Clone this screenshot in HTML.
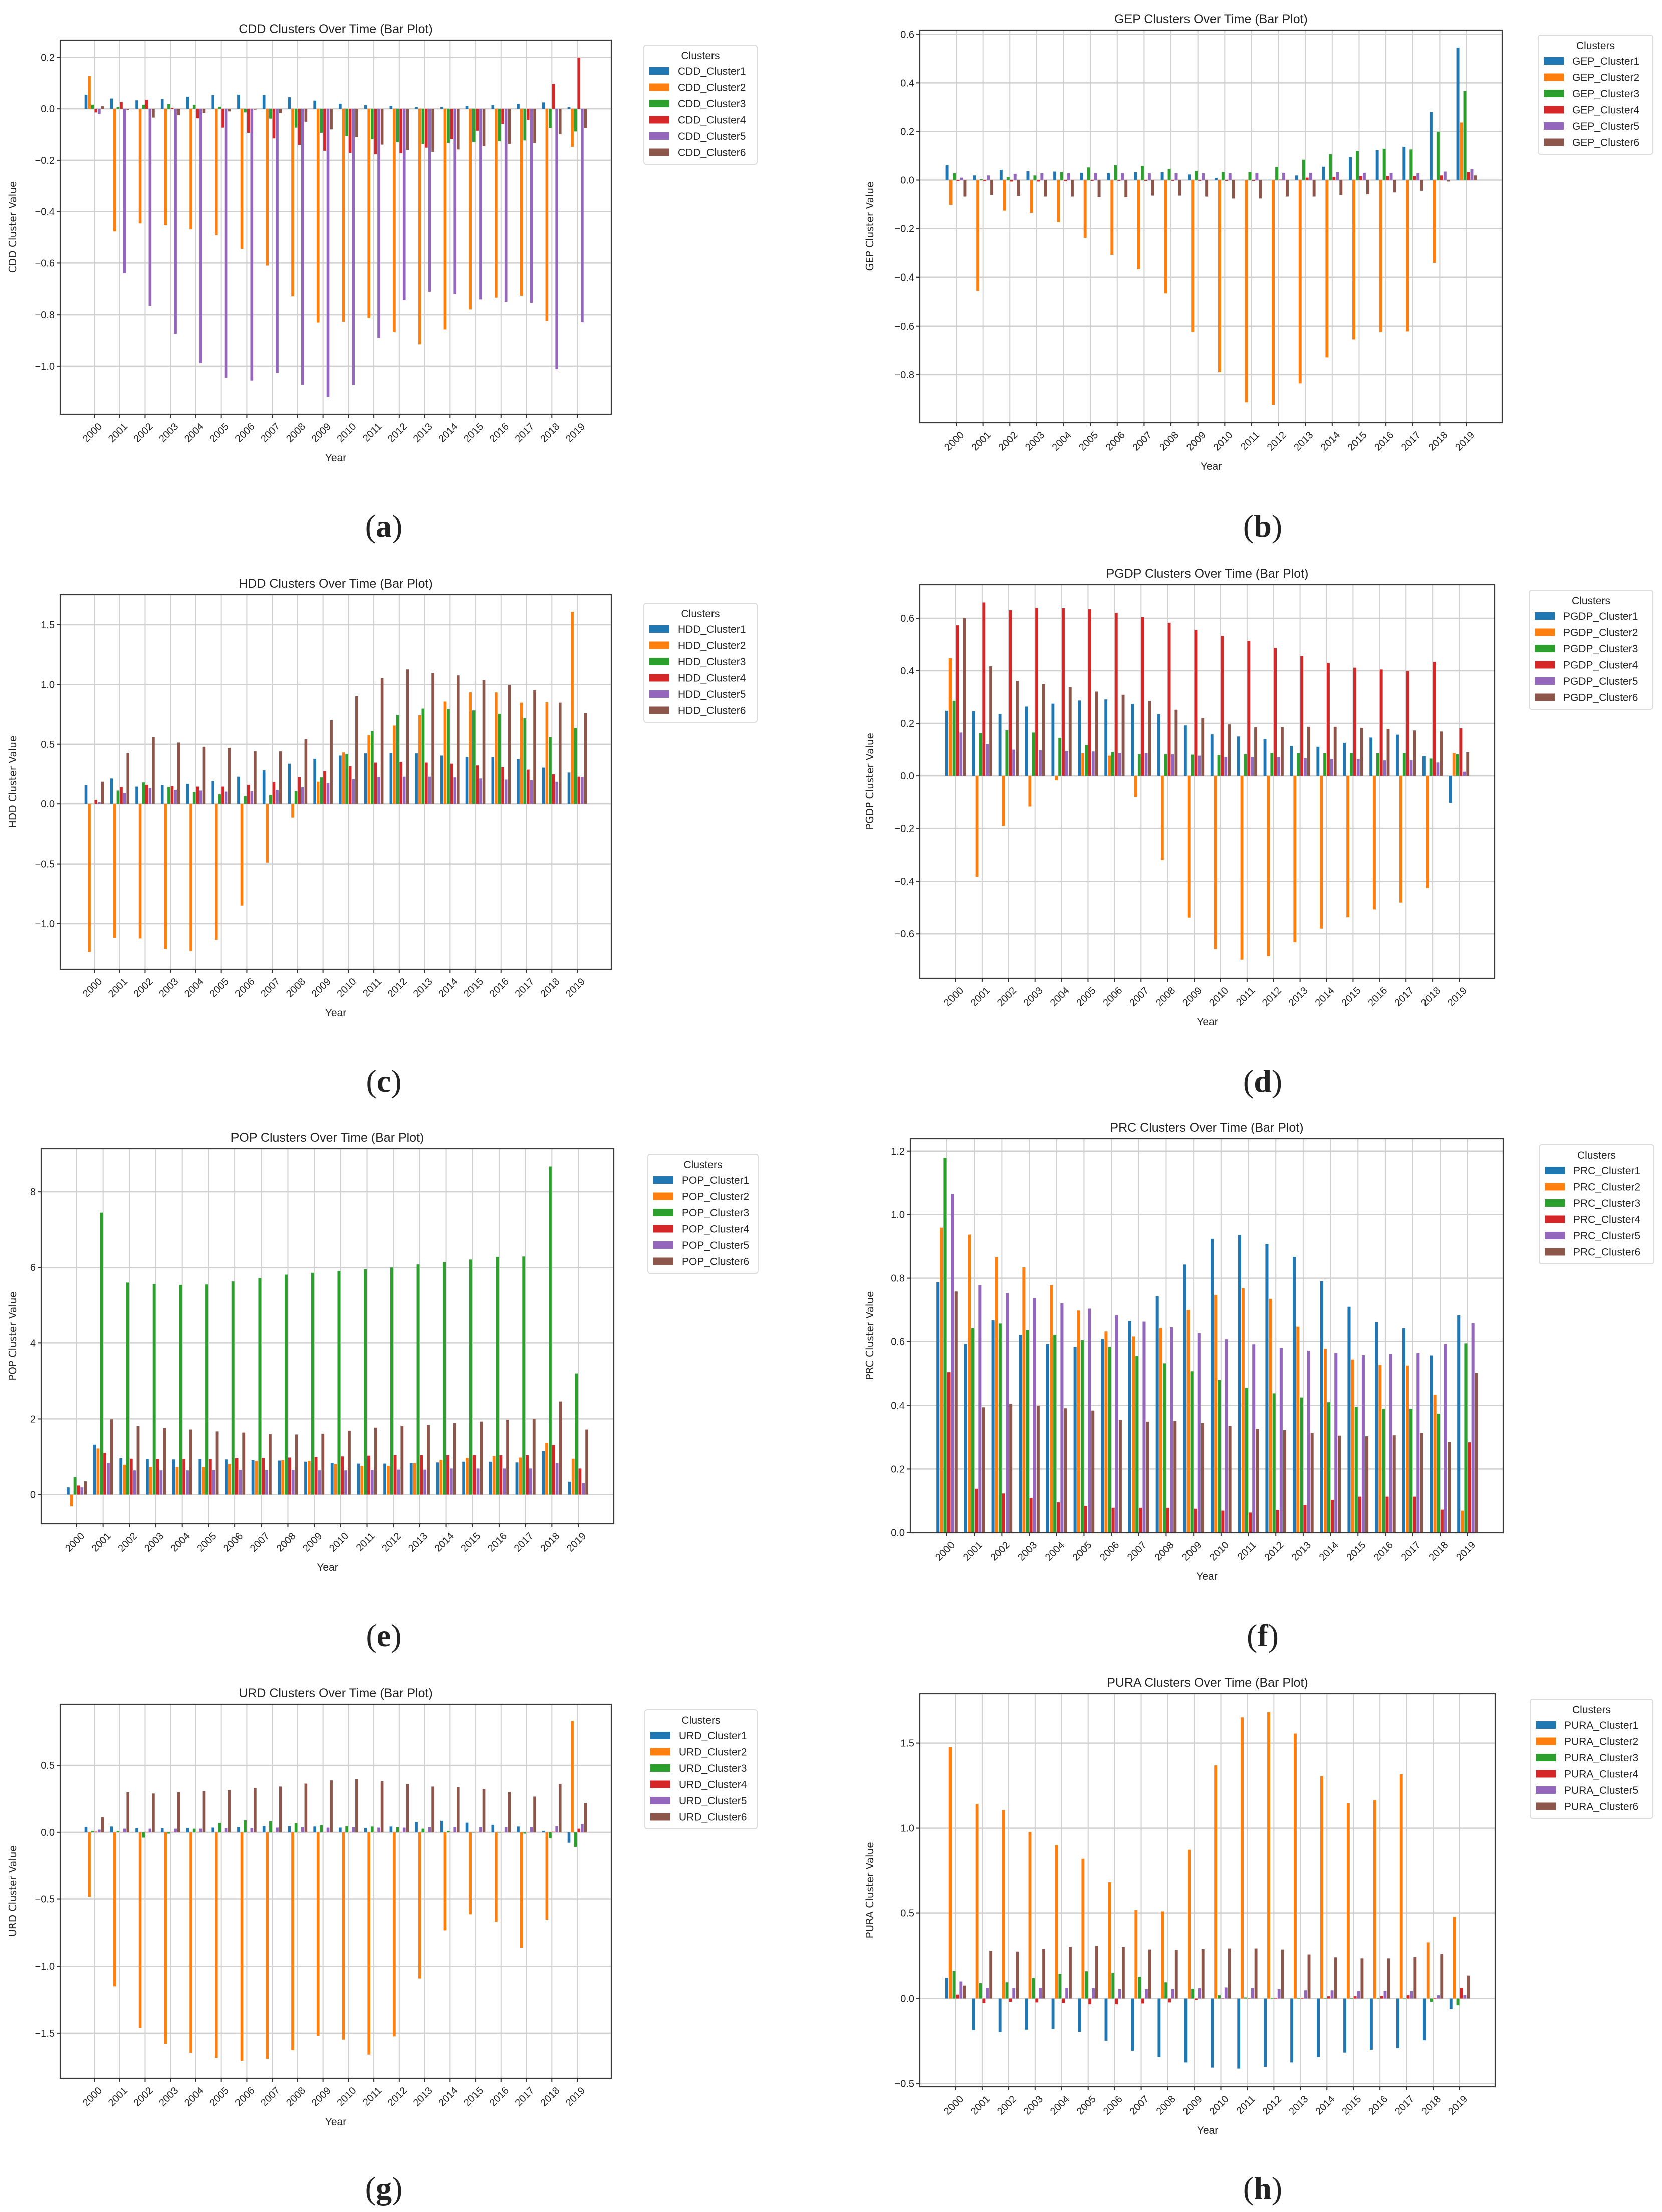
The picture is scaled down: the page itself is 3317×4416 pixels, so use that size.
<!DOCTYPE html>
<html><head><meta charset="utf-8"><title>Cluster bar plots</title>
<style>
html,body{margin:0;padding:0;background:#fff;}
#fig{display:block;}
text{font-family:"Liberation Sans","DejaVu Sans",sans-serif;fill:#222;}
</style></head>
<body>
<svg id="fig" xmlns="http://www.w3.org/2000/svg" width="3317" height="4416" viewBox="0 0 3317 4416"></svg>
<script>
const years = [2000,2001,2002,2003,2004,2005,2006,2007,2008,2009,2010,2011,2012,2013,2014,2015,2016,2017,2018,2019];
const colors = ["#1f77b4","#ff7f0e","#2ca02c","#d62728","#9467bd","#8c564b"];

// CDD
const cdd1 = [0.055,0.04,0.033,0.038,0.047,0.053,0.055,0.053,0.045,0.032,0.02,0.014,0.011,0.007,0.007,0.011,0.015,0.019,0.025,0.007];
const cdd2 = [0.127,-0.477,-0.446,-0.453,-0.469,-0.492,-0.545,-0.61,-0.728,-0.83,-0.827,-0.813,-0.867,-0.915,-0.857,-0.779,-0.733,-0.726,-0.824,-0.148];
const cdd3 = [0.016,0.008,0.016,0.018,0.016,0.008,-0.014,-0.038,-0.073,-0.093,-0.106,-0.118,-0.13,-0.136,-0.132,-0.129,-0.126,-0.123,-0.074,-0.088];
const cdd4 = [-0.014,0.027,0.035,0.004,-0.037,-0.073,-0.093,-0.115,-0.14,-0.163,-0.171,-0.177,-0.173,-0.151,-0.118,-0.085,-0.058,-0.043,0.097,0.199];
const cdd5 = [-0.02,-0.64,-0.765,-0.874,-0.988,-1.045,-1.056,-1.026,-1.072,-1.12,-1.073,-0.89,-0.743,-0.71,-0.72,-0.74,-0.749,-0.753,-1.012,-0.829];
const cdd6 = [0.01,-0.005,-0.034,-0.025,-0.017,-0.01,-0.003,-0.017,-0.05,-0.08,-0.11,-0.139,-0.16,-0.167,-0.158,-0.145,-0.136,-0.134,-0.099,-0.075];
const cddTicks = [0.2,0,-0.2,-0.4,-0.6,-0.8,-1.0];
const cddTickLabels = ["0.2","0.0","\u22120.2","\u22120.4","\u22120.6","\u22120.8","\u22121.0"];

// GEP
const gep1 = [0.061,0.019,0.042,0.036,0.035,0.03,0.028,0.032,0.032,0.023,0.009,0,0.001,0.019,0.055,0.094,0.123,0.137,0.28,0.545];
const gep2 = [-0.102,-0.455,-0.126,-0.135,-0.173,-0.238,-0.308,-0.367,-0.465,-0.624,-0.79,-0.914,-0.924,-0.836,-0.729,-0.655,-0.624,-0.622,-0.341,0.237];
const gep3 = [0.028,0.003,0.012,0.019,0.033,0.052,0.061,0.058,0.046,0.038,0.033,0.033,0.054,0.084,0.107,0.119,0.129,0.126,0.199,0.367];
const gep4 = [-0.004,-0.005,-0.006,-0.006,-0.005,-0.003,-0.003,-0.003,-0.003,-0.003,-0.003,-0.003,0.002,0.01,0.013,0.016,0.016,0.016,0.019,0.032];
const gep5 = [0.01,0.019,0.026,0.028,0.028,0.029,0.029,0.029,0.028,0.028,0.028,0.029,0.03,0.03,0.032,0.03,0.03,0.028,0.035,0.045];
const gep6 = [-0.068,-0.061,-0.065,-0.068,-0.068,-0.07,-0.07,-0.064,-0.064,-0.068,-0.076,-0.076,-0.068,-0.068,-0.062,-0.058,-0.051,-0.044,-0.006,0.019];
const gepTicks = [0.6,0.4,0.2,0,-0.2,-0.4,-0.6,-0.8];
const gepTickLabels = ["0.6","0.4","0.2","0.0","\u22120.2","\u22120.4","\u22120.6","\u22120.8"];

// HDD
const hdd1 = [0.157,0.213,0.145,0.157,0.168,0.192,0.228,0.281,0.337,0.378,0.405,0.423,0.426,0.423,0.405,0.393,0.39,0.375,0.304,0.263];
const hdd2 = [-1.235,-1.117,-1.123,-1.212,-1.229,-1.135,-0.848,-0.488,-0.115,0.186,0.431,0.576,0.656,0.742,0.857,0.934,0.934,0.848,0.851,1.608];
const hdd3 = [0.0,0.112,0.18,0.142,0.1,0.08,0.065,0.074,0.106,0.222,0.417,0.609,0.745,0.798,0.795,0.783,0.754,0.718,0.558,0.635];
const hdd4 = [0.033,0.142,0.16,0.148,0.145,0.145,0.16,0.183,0.225,0.275,0.316,0.346,0.352,0.346,0.337,0.322,0.307,0.287,0.248,0.228];
const hdd5 = [0.015,0.089,0.133,0.118,0.112,0.103,0.106,0.118,0.139,0.174,0.207,0.225,0.228,0.228,0.222,0.213,0.204,0.198,0.186,0.225];
const hdd6 = [0.186,0.428,0.558,0.514,0.479,0.47,0.44,0.44,0.541,0.7,0.901,1.052,1.126,1.096,1.076,1.037,0.996,0.952,0.848,0.759];
const hddTicks = [1.5,1.0,0.5,0,-0.5,-1.0];
const hddTickLabels = ["1.5","1.0","0.5","0.0","\u22120.5","\u22121.0"];

// PGDP
const pgdp1 = [0.248,0.246,0.236,0.264,0.275,0.287,0.291,0.274,0.235,0.192,0.158,0.15,0.14,0.114,0.111,0.126,0.146,0.157,0.075,-0.103];
const pgdp2 = [0.448,-0.383,-0.191,-0.117,-0.017,0.086,0.077,-0.08,-0.319,-0.538,-0.658,-0.698,-0.685,-0.632,-0.58,-0.537,-0.507,-0.481,-0.426,0.087];
const pgdp3 = [0.286,0.162,0.174,0.165,0.145,0.117,0.091,0.083,0.083,0.081,0.079,0.083,0.087,0.086,0.086,0.086,0.086,0.087,0.066,0.082];
const pgdp4 = [0.573,0.66,0.631,0.639,0.638,0.634,0.621,0.604,0.583,0.556,0.533,0.514,0.487,0.456,0.43,0.412,0.405,0.399,0.434,0.181];
const pgdp5 = [0.165,0.121,0.1,0.098,0.095,0.093,0.087,0.086,0.082,0.077,0.072,0.071,0.071,0.067,0.064,0.063,0.059,0.059,0.051,0.016];
const pgdp6 = [0.6,0.417,0.361,0.349,0.338,0.321,0.309,0.285,0.252,0.22,0.196,0.185,0.185,0.187,0.187,0.183,0.179,0.173,0.169,0.09];
const pgdpTicks = [0.6,0.4,0.2,0,-0.2,-0.4,-0.6];
const pgdpTickLabels = ["0.6","0.4","0.2","0.0","\u22120.2","\u22120.4","\u22120.6"];

// POP
const pop1 = [0.19,1.32,0.96,0.94,0.93,0.94,0.93,0.91,0.9,0.87,0.84,0.82,0.82,0.83,0.85,0.87,0.87,0.85,1.15,0.34];
const pop2 = [-0.31,1.22,0.79,0.73,0.73,0.73,0.81,0.89,0.91,0.89,0.81,0.76,0.76,0.83,0.92,0.97,1.02,0.98,1.37,0.95];
const pop3 = [0.46,7.45,5.6,5.56,5.54,5.55,5.63,5.72,5.81,5.86,5.91,5.95,6.0,6.08,6.14,6.21,6.28,6.29,8.67,3.19];
const pop4 = [0.24,1.1,0.95,0.94,0.94,0.94,0.96,0.97,0.98,0.99,1.01,1.03,1.04,1.04,1.04,1.04,1.04,1.04,1.31,0.69];
const pop5 = [0.19,0.84,0.64,0.64,0.64,0.65,0.65,0.65,0.65,0.64,0.64,0.65,0.66,0.66,0.69,0.69,0.69,0.69,0.84,0.3];
const pop6 = [0.35,1.99,1.81,1.76,1.72,1.67,1.64,1.6,1.59,1.61,1.69,1.77,1.82,1.84,1.89,1.93,1.98,2.0,2.46,1.72];
const popTicks = [8,6,4,2,0];
const popTickLabels = ["8","6","4","2","0"];

// PRC
const prc1 = [0.787,0.592,0.667,0.621,0.592,0.583,0.608,0.665,0.743,0.843,0.924,0.936,0.907,0.867,0.79,0.71,0.661,0.642,0.556,0.683];
const prc2 = [0.959,0.937,0.866,0.834,0.778,0.698,0.632,0.616,0.643,0.7,0.747,0.768,0.735,0.647,0.577,0.543,0.526,0.524,0.434,0.069];
const prc3 = [1.179,0.642,0.657,0.636,0.621,0.604,0.583,0.554,0.531,0.506,0.478,0.455,0.438,0.425,0.41,0.395,0.389,0.389,0.374,0.594];
const prc4 = [0.503,0.138,0.123,0.109,0.095,0.084,0.078,0.078,0.078,0.075,0.069,0.063,0.071,0.087,0.103,0.113,0.113,0.113,0.072,0.284];
const prc5 = [1.065,0.778,0.753,0.737,0.721,0.704,0.683,0.663,0.645,0.626,0.607,0.591,0.579,0.571,0.564,0.557,0.56,0.563,0.592,0.658];
const prc6 = [0.758,0.394,0.405,0.399,0.391,0.384,0.355,0.349,0.351,0.345,0.335,0.326,0.322,0.314,0.305,0.303,0.306,0.313,0.285,0.5];
const prcTicks = [1.2,1.0,0.8,0.6,0.4,0.2,0];
const prcTickLabels = ["1.2","1.0","0.8","0.6","0.4","0.2","0.0"];

// URD
const urd1 = [0.04,0.043,0.03,0.03,0.032,0.035,0.04,0.045,0.045,0.043,0.035,0.032,0.043,0.078,0.086,0.072,0.056,0.043,0.01,-0.078];
const urd2 = [-0.484,-1.15,-1.46,-1.58,-1.647,-1.684,-1.706,-1.693,-1.628,-1.519,-1.548,-1.66,-1.524,-1.091,-0.735,-0.615,-0.671,-0.861,-0.655,0.832];
const urd3 = [0.01,0.01,-0.04,-0.01,0.027,0.07,0.09,0.083,0.067,0.053,0.045,0.043,0.037,0.027,0.01,0.0,0.0,-0.01,-0.045,-0.11];
const urd4 = [0.005,0.002,0.002,0.002,0.002,0.002,0.002,0.002,0.002,0.002,0.002,0.002,0.002,0.002,0.002,0.002,0.002,0.002,0.004,0.027];
const urd5 = [0.02,0.027,0.027,0.027,0.027,0.032,0.032,0.035,0.037,0.035,0.037,0.035,0.035,0.037,0.037,0.037,0.037,0.037,0.045,0.062];
const urd6 = [0.112,0.3,0.29,0.3,0.307,0.316,0.332,0.342,0.364,0.388,0.396,0.382,0.361,0.342,0.337,0.324,0.302,0.267,0.361,0.219];
const urdTicks = [0.5,0,-0.5,-1.0,-1.5];
const urdTickLabels = ["0.5","0.0","\u22120.5","\u22121.0","\u22121.5"];

// PURA
const pura1 = [0.122,-0.185,-0.198,-0.183,-0.179,-0.196,-0.248,-0.307,-0.345,-0.376,-0.406,-0.412,-0.402,-0.376,-0.345,-0.318,-0.301,-0.292,-0.246,-0.063];
const pura2 = [1.476,1.142,1.106,0.978,0.9,0.82,0.681,0.517,0.509,0.873,1.369,1.651,1.682,1.556,1.306,1.146,1.165,1.317,0.33,0.477];
const pura3 = [0.162,0.09,0.095,0.12,0.145,0.16,0.151,0.128,0.095,0.057,0.019,0.006,0.004,0.004,0.003,0.003,0.003,-0.004,-0.019,-0.04];
const pura4 = [0.023,-0.027,-0.019,-0.023,-0.027,-0.034,-0.034,-0.029,-0.023,-0.008,0.0,0.0,0.004,0.004,0.013,0.013,0.015,0.019,0.004,0.063];
const pura5 = [0.1,0.063,0.061,0.063,0.063,0.061,0.055,0.055,0.055,0.061,0.065,0.061,0.055,0.048,0.048,0.044,0.044,0.044,0.019,0.021];
const pura6 = [0.076,0.28,0.276,0.292,0.303,0.309,0.303,0.288,0.286,0.29,0.294,0.294,0.288,0.259,0.242,0.236,0.236,0.244,0.261,0.135];
const puraTicks = [1.5,1.0,0.5,0,-0.5];
const puraTickLabels = ["1.5","1.0","0.5","0.0","\u22120.5"];

const NS = "http://www.w3.org/2000/svg";
const svg = document.getElementById("fig");

function mk(tag, attrs, parent) {
  const e = document.createElementNS(NS, tag);
  for (const k in attrs) e.setAttribute(k, attrs[k]);
  (parent || svg).appendChild(e);
  return e;
}

function drawPanel(L, series, ticks, tickLabels, key, letter) {
  const g = mk("g", {});
  
  
  const yS = v => L.py1 - (v - L.ymin) / (L.ymax - L.ymin) * (L.py1 - L.py0);
  const xS = i => L.x0 + i * (L.x19 - L.x0) / (years.length - 1);
  const spacing = (L.x19 - L.x0) / (years.length - 1);
  const step = spacing * 0.13;
  const bw = step * 0.85;

  const t = mk("text", {x: (L.px0 + L.px1) / 2, y: L.py0 - 14, "text-anchor": "middle", "font-size": 25}, g);
  t.textContent = key + " Clusters Over Time (Bar Plot)";
  
  

  for (let i = 0; i < years.length; i++) {
    const gl = mk("line", {x1: xS(i), x2: xS(i), y1: L.py0, y2: L.py1, stroke: "#d0d0d0", "stroke-width": 2}, g);
    
    
  }
  for (let i = 0; i < ticks.length; i++) {
    const y = yS(ticks[i]);
    const gl = mk("line", {x1: L.px0, x2: L.px1, y1: y, y2: y, stroke: "#d0d0d0", "stroke-width": 2.5}, g);
    
    
    const tk = mk("line", {x1: L.px0 - 7, x2: L.px0, y1: y, y2: y, stroke: "#333", "stroke-width": 2}, g);
    
    
    const tl = mk("text", {x: L.px0 - 11, y: y + 7, "text-anchor": "end", "font-size": 20}, g);
    tl.textContent = tickLabels[i];
    
    
  }

  const z = yS(0);
  for (let k = 0; k < series.length; k++) {
    for (let i = 0; i < years.length; i++) {
      const v = series[k][i];
      const cx = xS(i) + (k - 2.5) * step;
      const y = yS(v);
      const r = mk("rect", {x: cx - bw / 2, y: Math.min(y, z), width: bw, height: Math.max(Math.abs(y - z), 0.5), fill: colors[k]}, g);
      
      
    }
  }

  const fr = mk("rect", {x: L.px0, y: L.py0, width: L.px1 - L.px0, height: L.py1 - L.py0, fill: "none", stroke: "#3a3a3a", "stroke-width": 2.2}, g);
  
  

  for (let i = 0; i < years.length; i++) {
    const x = xS(i);
    const tk = mk("line", {x1: x, x2: x, y1: L.py1, y2: L.py1 + 7, stroke: "#333", "stroke-width": 2}, g);
    
    
    const tx = x + 7, ty = L.py1 + 16;
    const tl = mk("text", {x: tx, y: ty, "text-anchor": "end", "font-size": 20, "dominant-baseline": "hanging", transform: "rotate(-45 " + tx + " " + ty + ")"}, g);
    tl.textContent = years[i];
    
    
  }
  const xl = mk("text", {x: (L.px0 + L.px1) / 2, y: L.py1 + 94, "text-anchor": "middle", "font-size": 21}, g);
  xl.textContent = "Year";
  
  
  const yc = (L.py0 + L.py1) / 2;
  const yl = mk("text", {x: L.ylx, y: yc, "text-anchor": "middle", "font-size": 20, style: "font-family:'DejaVu Sans',sans-serif", transform: "rotate(-90 " + L.ylx + " " + yc + ")"}, g);
  yl.textContent = key + " Cluster Value";
  
  

  const lg = mk("g", {}, g);
  
  
  mk("rect", {x: L.lx0, y: L.ly0, width: L.lx1 - L.lx0, height: 238, rx: 5, fill: "#fff", stroke: "#dcdcdc", "stroke-width": 2}, lg);
  const lt = mk("text", {x: (L.lx0 + L.lx1) / 2, y: L.ly0 + 28, "text-anchor": "middle", "font-size": 21}, lg);
  lt.textContent = "Clusters";
  
  
  for (let k = 0; k < 6; k++) {
    const ey = L.ly0 + 52 + k * 32.5;
    const ent = mk("g", {}, lg);
    
    
    mk("rect", {x: L.lx0 + 11, y: ey - 8, width: 40, height: 15, fill: colors[k]}, ent);
    const et = mk("text", {x: L.lx0 + 68, y: ey + 7, "font-size": 21}, ent);
    et.textContent = key + "_Cluster" + (k + 1);
  }

  const pl = mk("text", {x: L.labx, y: L.laby + 22, "text-anchor": "middle", "font-size": 64, style: "font-family:'Liberation Serif',serif"}, g);
  
  
  const p1 = mk("tspan", {}, pl); p1.textContent = "(";
  const p2 = mk("tspan", {"font-weight": "bold"}, pl); p2.textContent = letter;
  const p3 = mk("tspan", {}, pl); p3.textContent = ")";
}

drawPanel({px0:120,px1:1220,py0:80,py1:827,ymin:-1.187,ymax:0.267,x0:188,x19:1152,ylx:32,lx0:1285,lx1:1511,ly0:90,labx:766,laby:1050},
  [cdd1,cdd2,cdd3,cdd4,cdd5,cdd6], cddTicks, cddTickLabels, "CDD", "a");
drawPanel({px0:1836,px1:2998,py0:60,py1:844,ymin:-0.998,ymax:0.617,x0:1908,x19:2927,ylx:1743,lx0:3070,lx1:3299,ly0:70,labx:2520,laby:1050},
  [gep1,gep2,gep3,gep4,gep5,gep6], gepTicks, gepTickLabels, "GEP", "b");
drawPanel({px0:120,px1:1220,py0:1187,py1:1935,ymin:-1.381,ymax:1.751,x0:188,x19:1152,ylx:32,lx0:1285,lx1:1511,ly0:1204,labx:766,laby:2158},
  [hdd1,hdd2,hdd3,hdd4,hdd5,hdd6], hddTicks, hddTickLabels, "HDD", "c");
drawPanel({px0:1836,px1:2983,py0:1167,py1:1953,ymin:-0.769,ymax:0.7275,x0:1907,x19:2912,ylx:1743,lx0:3052,lx1:3299,ly0:1178,labx:2520,laby:2158},
  [pgdp1,pgdp2,pgdp3,pgdp4,pgdp5,pgdp6], pgdpTicks, pgdpTickLabels, "PGDP", "d");
drawPanel({px0:82,px1:1225,py0:2293,py1:3042,ymin:-0.774,ymax:9.14,x0:153,x19:1154,ylx:32,lx0:1293,lx1:1513,ly0:2304,labx:766,laby:3265},
  [pop1,pop2,pop3,pop4,pop5,pop6], popTicks, popTickLabels, "POP", "e");
drawPanel({px0:1817,px1:3000,py0:2273,py1:3060,ymin:-0.001,ymax:1.239,x0:1890,x19:2929,ylx:1743,lx0:3072,lx1:3301,ly0:2285,labx:2520,laby:3265},
  [prc1,prc2,prc3,prc4,prc5,prc6], prcTicks, prcTickLabels, "PRC", "f");
drawPanel({px0:120,px1:1220,py0:3402,py1:4149,ymin:-1.837,ymax:0.957,x0:188,x19:1152,ylx:32,lx0:1287,lx1:1511,ly0:3413,labx:766,laby:4368},
  [urd1,urd2,urd3,urd4,urd5,urd6], urdTicks, urdTickLabels, "URD", "g");
drawPanel({px0:1836,px1:2984,py0:3381,py1:4166,ymin:-0.519,ymax:1.79,x0:1907,x19:2913,ylx:1743,lx0:3054,lx1:3299,ly0:3392,labx:2520,laby:4368},
  [pura1,pura2,pura3,pura4,pura5,pura6], puraTicks, puraTickLabels, "PURA", "h");
</script>
</body></html>
